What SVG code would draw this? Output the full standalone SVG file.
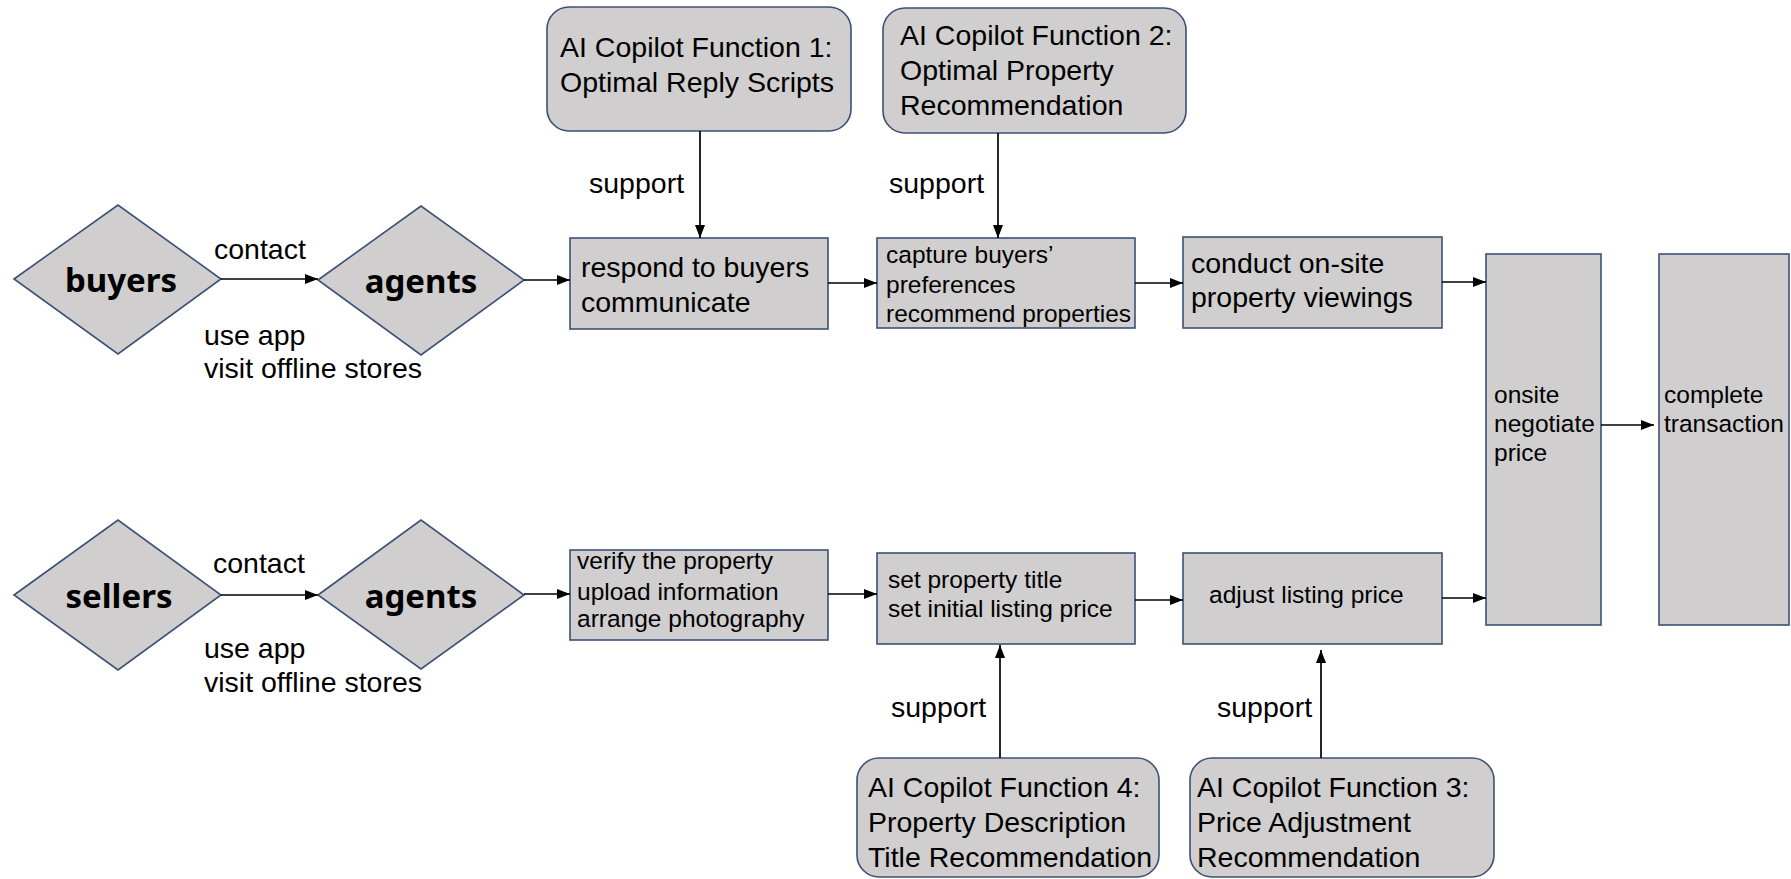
<svg xmlns="http://www.w3.org/2000/svg" width="1791" height="879" viewBox="0 0 1791 879">
<defs>
<marker id="ah" markerUnits="userSpaceOnUse" markerWidth="14" markerHeight="11" refX="13" refY="5" orient="auto">
<path d="M0,0 L13,5 L0,10 z" fill="#000"/>
</marker>
<style>
.box{fill:#d0cece;stroke:#3b5177;stroke-width:1.6}
.t{font-family:"Liberation Sans",Arial,sans-serif;fill:#000}
.L{font-size:28.5px}
.M{font-size:24.5px}
.d{font-family:"Noto Sans","Open Sans",sans-serif;font-weight:bold;font-size:33px;fill:#000;text-anchor:middle}
.c{stroke:#000;stroke-width:1.7;fill:none;marker-end:url(#ah)}
</style>
</defs>
<rect width="1791" height="879" fill="#fff"/>

<g id="buyers">
<polygon class="box" points="14,279 118,205 221,279 118,354"/>
<text class="d" x="121" y="292">buyers</text>
</g>
<g id="agents1">
<polygon class="box" points="318,280 421,206 524,280 421,355"/>
<text class="d" x="421" y="293">agents</text>
</g>
<g id="sellers">
<polygon class="box" points="14,595 118,520 221,595 118,670"/>
<text class="d" x="119" y="608">sellers</text>
</g>
<g id="agents2">
<polygon class="box" points="318,595 421,520 524,595 421,669"/>
<text class="d" x="421" y="608">agents</text>
</g>

<g id="ai1">
<rect class="box" x="547" y="7" width="304" height="124" rx="22"/>
<text class="t L" x="560" y="57">AI Copilot Function 1:</text>
<text class="t L" x="560" y="92">Optimal Reply Scripts</text>
</g>
<g id="ai2">
<rect class="box" x="883" y="8" width="303" height="125" rx="22"/>
<text class="t L" x="900" y="45">AI Copilot Function 2:</text>
<text class="t L" x="900" y="80">Optimal Property</text>
<text class="t L" x="900" y="115">Recommendation</text>
</g>
<g id="ai4">
<rect class="box" x="857" y="758" width="302" height="119" rx="22"/>
<text class="t L" x="868" y="797">AI Copilot Function 4:</text>
<text class="t L" x="868" y="832">Property Description</text>
<text class="t L" x="868" y="867">Title Recommendation</text>
</g>
<g id="ai3">
<rect class="box" x="1190" y="758" width="304" height="119" rx="22"/>
<text class="t L" x="1197" y="797">AI Copilot Function 3:</text>
<text class="t L" x="1197" y="832">Price Adjustment</text>
<text class="t L" x="1197" y="867">Recommendation</text>
</g>

<g id="respond">
<rect class="box" x="570" y="238" width="258" height="91"/>
<text class="t L" x="581" y="277">respond to buyers</text>
<text class="t L" x="581" y="312">communicate</text>
</g>
<g id="capture">
<rect class="box" x="877" y="238" width="258" height="90"/>
<text class="t M" x="886" y="263">capture buyers’</text>
<text class="t M" x="886" y="293">preferences</text>
<text class="t M" x="886" y="322">recommend properties</text>
</g>
<g id="conduct">
<rect class="box" x="1183" y="237" width="259" height="91"/>
<text class="t L" x="1191" y="273">conduct on-site</text>
<text class="t L" x="1191" y="307">property viewings</text>
</g>
<g id="verify">
<rect class="box" x="570" y="550" width="258" height="90"/>
<text class="t M" x="577" y="569">verify the property</text>
<text class="t M" x="577" y="600">upload information</text>
<text class="t M" x="577" y="627">arrange photography</text>
</g>
<g id="set">
<rect class="box" x="877" y="553" width="258" height="91"/>
<text class="t M" x="888" y="588">set property title</text>
<text class="t M" x="888" y="617">set initial listing price</text>
</g>
<g id="adjust">
<rect class="box" x="1183" y="553" width="259" height="91"/>
<text class="t M" x="1209" y="603">adjust listing price</text>
</g>
<g id="onsite">
<rect class="box" x="1486" y="254" width="115" height="371"/>
<text class="t M" x="1494" y="403">onsite</text>
<text class="t M" x="1494" y="432">negotiate</text>
<text class="t M" x="1494" y="461">price</text>
</g>
<g id="complete">
<rect class="box" x="1659" y="254" width="130" height="371"/>
<text class="t M" x="1664" y="403">complete</text>
<text class="t M" x="1664" y="432">transaction</text>
</g>

<g id="connectors">
<line class="c" x1="221" y1="279" x2="318" y2="279"/>
<line class="c" x1="524" y1="280" x2="570" y2="280"/>
<line class="c" x1="828" y1="283" x2="877" y2="283"/>
<line class="c" x1="1135" y1="283" x2="1183" y2="283"/>
<line class="c" x1="1442" y1="282" x2="1486" y2="282"/>
<line class="c" x1="700" y1="131" x2="700" y2="238"/>
<line class="c" x1="998" y1="133" x2="998" y2="238"/>
<line class="c" x1="221" y1="595" x2="318" y2="595"/>
<line class="c" x1="524" y1="594" x2="570" y2="594"/>
<line class="c" x1="828" y1="594" x2="877" y2="594"/>
<line class="c" x1="1135" y1="600" x2="1183" y2="600"/>
<line class="c" x1="1442" y1="598" x2="1486" y2="598"/>
<line class="c" x1="1601" y1="425" x2="1654" y2="425"/>
<line class="c" x1="1000" y1="758" x2="1000" y2="645"/>
<line class="c" x1="1321" y1="758" x2="1321" y2="650"/>
<text class="t L" x="214" y="259">contact</text>
<text class="t L" x="204" y="345">use app</text>
<text class="t L" x="204" y="378">visit offline stores</text>
<text class="t L" x="213" y="573">contact</text>
<text class="t L" x="204" y="658">use app</text>
<text class="t L" x="204" y="692">visit offline stores</text>
<text class="t L" x="589" y="193">support</text>
<text class="t L" x="889" y="193">support</text>
<text class="t L" x="891" y="717">support</text>
<text class="t L" x="1217" y="717">support</text>
</g>
</svg>
